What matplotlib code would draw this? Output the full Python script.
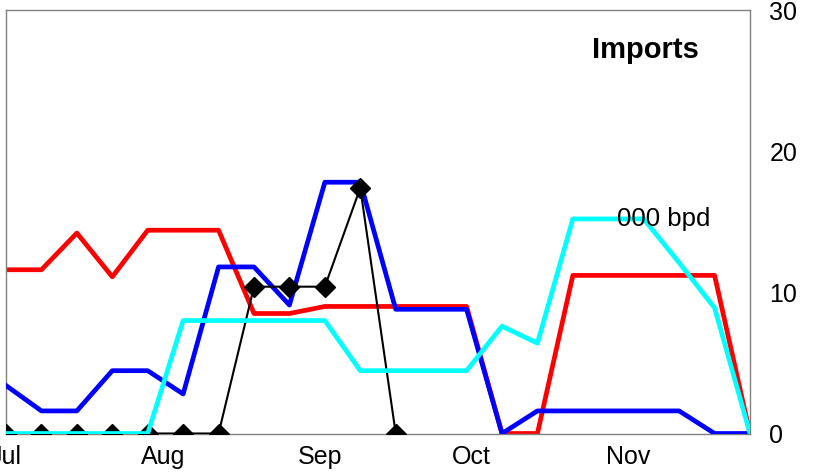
import numpy as np
import matplotlib.pyplot as plt

plt.rcParams['font.family'] = ['Liberation Sans', 'DejaVu Sans']

# weekly points, days since 1 Jul
days = [7 * i for i in range(22)]

red = [11.6, 11.6, 14.2, 11.1, 14.4, 14.4, 14.4, 8.5, 8.5, 9.0, 9.0,
       9.0, 9.0, 9.0, 0, 0, 11.2, 11.2, 11.2, 11.2, 11.2, 0]
blue = [3.4, 1.6, 1.6, 4.45, 4.45, 2.8, 11.8, 11.8, 9.1, 17.8, 17.8,
        8.8, 8.8, 8.8, 0, 1.6, 1.6, 1.6, 1.6, 1.6, 0, 0]
cyan = [0, 0, 0, 0, 0, 8.0, 8.0, 8.0, 8.0, 8.0, 4.45,
        4.45, 4.45, 4.45, 7.6, 6.4, 15.2, 15.2, 15.2, 12.1, 8.9, 0]
black = [0, 0, 0, 0, 0, 0, 0, 10.4, 10.4, 10.4, 17.4, 0]

month_pos = [0, 31, 62, 92, 123]
month_lab = ['Jul', 'Aug', 'Sep', 'Oct', 'Nov']
yticks = [0, 10, 20, 30]

fig = plt.figure(figsize=(8.13, 4.74), dpi=100)
ax = fig.add_axes([6 / 813, 40.5 / 474, 744 / 813, 423.5 / 474])

ax.plot(days, red, color='#ff0000', lw=3.4, zorder=2)
ax.plot(days, blue, color='#0000ff', lw=3.4, zorder=3)
ax.plot(days[:len(black)], black, color='black', lw=1.5, marker='D',
        markersize=10, zorder=4)
ax.plot(days, cyan, color='#00ffff', lw=3.4, zorder=5)

ax.set_xlim(days[0], days[-1])
ax.set_ylim(0, 30)

ax.set_xticks(month_pos)
ax.set_xticklabels(month_lab)
ax.yaxis.tick_right()
ax.set_yticks(yticks)
ax.tick_params(axis='both', length=0, labelsize=18)
ax.tick_params(axis='x', pad=8)
ax.tick_params(axis='y', pad=14)

for s in ax.spines.values():
    s.set_color('#808080')
    s.set_linewidth(1)

ax.text(0.859, 0.905, 'Imports', transform=ax.transAxes, ha='center',
        va='center', fontsize=21, fontweight='bold', zorder=10)
ax.text(0.821, 0.506, '000 bpd', transform=ax.transAxes, ha='left',
        va='center', fontsize=18.5, zorder=10)

fig.savefig('out.png', dpi=100)
